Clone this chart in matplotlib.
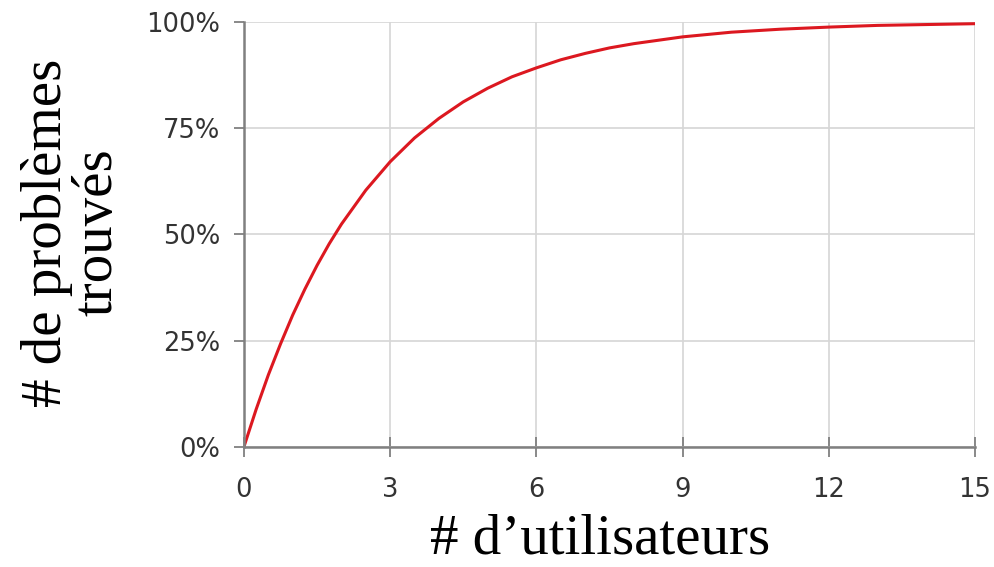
import matplotlib
matplotlib.use("Agg")
import matplotlib.pyplot as plt

users = [0, 0.25, 0.5, 0.75, 1, 1.25, 1.5, 1.75, 2, 2.5, 3, 3.5, 4, 4.5, 5, 5.5,
         6, 6.5, 7, 7.5, 8, 9, 10, 11, 12, 13, 14, 15]
found = [0, 8.8, 16.9, 24.2, 31, 37.1, 42.7, 47.8, 52.4, 60.4, 67.1, 72.7, 77.3, 81.2,
         84.4, 87.1, 89.2, 91.1, 92.6, 93.9, 94.9, 96.5, 97.6, 98.3, 98.8, 99.2, 99.4, 99.6]
x_ticks = [0, 3, 6, 9, 12, 15]
y_ticks = [0, 25, 50, 75, 100]
y_tick_labels = ["0%", "25%", "50%", "75%", "100%"]

fig = plt.figure(figsize=(9.95, 5.67), dpi=100)
ax = fig.add_axes([0.2452, 0.2122, 0.7347, 0.7490])

ax.plot(users, found, color="#dc1820", lw=2.2, solid_capstyle="round",
        solid_joinstyle="round")

ax.set_xlim(0, 15)
ax.set_ylim(0, 100)
ax.set_xticks(x_ticks)
ax.set_yticks(y_ticks)
ax.set_yticklabels(y_tick_labels)

ax.grid(True, color="#d6d6d6", lw=1.2)
ax.set_axisbelow(True)
for s in ["top", "right"]:
    ax.spines[s].set_visible(False)
for s in ["left", "bottom"]:
    ax.spines[s].set_color("#808080")
    ax.spines[s].set_linewidth(1.8)

ax.tick_params(axis="y", direction="out", length=7, width=1.3, color="#808080",
               labelsize=18.5, labelcolor="#333333", pad=10)
ax.tick_params(axis="x", direction="inout", length=14, width=1.3, color="#808080",
               labelsize=18.5, labelcolor="#333333", pad=15)
for lab in ax.get_xticklabels() + ax.get_yticklabels():
    lab.set_family("DejaVu Sans")

fig.text(0.603, 0.002, "# d\u2019utilisateurs", family="Liberation Serif",
         fontsize=41, ha="center", va="bottom", color="black")
fig.text(0.0724, 0.59, "# de problèmes\ntrouvés", family="Liberation Serif",
         fontsize=41, ha="center", va="center", rotation=90, color="black",
         multialignment="center", linespacing=0.95)

fig.savefig("out.png", dpi=100, facecolor="white")
